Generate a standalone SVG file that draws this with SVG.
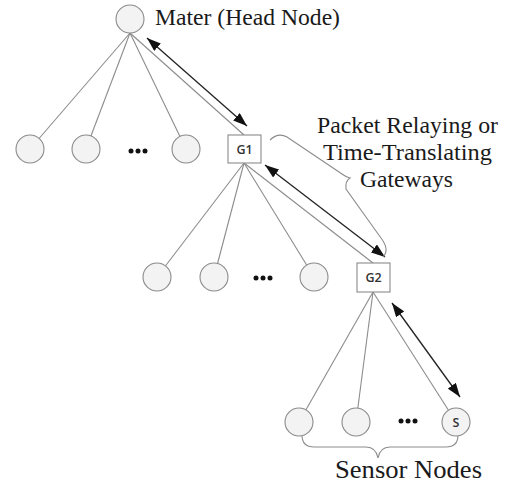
<svg xmlns="http://www.w3.org/2000/svg" width="507" height="484" viewBox="0 0 507 484">
<style>
.edge{stroke:#8c8c8c;stroke-width:1.1;fill:none}
.arr{stroke:#222;stroke-width:1.3;fill:none;marker-start:url(#ah);marker-end:url(#ah)}
.brace{stroke:#8c8c8c;stroke-width:1.1;fill:none}
.nd{fill:#f3f3f3;stroke:#8a8a8a;stroke-width:1.1}
.gw{fill:#fff;stroke:#8a8a8a;stroke-width:1.1}
.lbl{font-family:"Open Sans","Liberation Sans",sans-serif;font-size:12.5px;font-weight:600;fill:#333;text-anchor:middle}
.t{font-family:"Liberation Serif","Times New Roman",serif;font-size:24px;fill:#1a1a1a}
.dot{fill:#111}
</style>
<defs>
<marker id="ah" viewBox="0 0 14 10" refX="14" refY="5" markerWidth="14" markerHeight="10" orient="auto-start-reverse" markerUnits="userSpaceOnUse"><path d="M0,0 L14,5 L0,10 z" fill="#111"/></marker>
</defs>
<g id="connectors">
<line class="edge" x1="130" y1="33" x2="30" y2="149"/>
<line class="edge" x1="130" y1="33" x2="86" y2="149"/>
<line class="edge" x1="130" y1="33" x2="186" y2="149"/>
<line class="edge" x1="130" y1="33" x2="244" y2="135"/>
<line class="edge" x1="244" y1="163" x2="157" y2="277"/>
<line class="edge" x1="244" y1="163" x2="214" y2="277"/>
<line class="edge" x1="244" y1="163" x2="314" y2="277"/>
<line class="edge" x1="244" y1="163" x2="373" y2="263"/>
<line class="edge" x1="373" y1="292" x2="299" y2="422"/>
<line class="edge" x1="373" y1="292" x2="356" y2="422"/>
<line class="edge" x1="373" y1="292" x2="456" y2="422"/>
<line class="arr" x1="147" y1="38" x2="247" y2="126"/>
<line class="arr" x1="265" y1="165" x2="385" y2="257"/>
<line class="arr" x1="392" y1="303" x2="460" y2="397"/>
</g>
<g id="brace-gateways"><path class="brace" d="M270,140 Q278,132 287,137 L342,174 Q346,177 350,178 Q345,181 346,189 L381,238 Q390,250 383,257"/></g>
<g id="brace-sensors"><path class="brace" d="M302,435 Q302,447 314,447 L366,447 Q376,447 378,458 Q380,447 390,447 L446,447 Q458,447 458,435"/></g>
<g id="head"><circle class="nd" cx="130" cy="19" r="14"/></g>
<g id="n1a"><circle class="nd" cx="30" cy="149" r="14"/></g>
<g id="n1b"><circle class="nd" cx="86" cy="149" r="14"/></g>
<g id="dots1"><circle class="dot" cx="131" cy="151" r="2.5"/><circle class="dot" cx="138" cy="151" r="2.5"/><circle class="dot" cx="145" cy="151" r="2.5"/></g>
<g id="n1c"><circle class="nd" cx="186" cy="149" r="14"/></g>
<g id="G1"><rect class="gw" x="228" y="135" width="33" height="28"/><text class="lbl" x="244.5" y="153.5">G1</text></g>
<g id="n2a"><circle class="nd" cx="157" cy="277" r="14"/></g>
<g id="n2b"><circle class="nd" cx="214" cy="277" r="14"/></g>
<g id="dots2"><circle class="dot" cx="256" cy="278" r="2.5"/><circle class="dot" cx="263" cy="278" r="2.5"/><circle class="dot" cx="270" cy="278" r="2.5"/></g>
<g id="n2c"><circle class="nd" cx="314" cy="277" r="14"/></g>
<g id="G2"><rect class="gw" x="357" y="263" width="33" height="29"/><text class="lbl" x="373.5" y="282">G2</text></g>
<g id="n3a"><circle class="nd" cx="299" cy="422" r="14"/></g>
<g id="n3b"><circle class="nd" cx="356" cy="422" r="14"/></g>
<g id="dots3"><circle class="dot" cx="401" cy="421" r="2.5"/><circle class="dot" cx="408" cy="421" r="2.5"/><circle class="dot" cx="415" cy="421" r="2.5"/></g>
<g id="S"><circle class="nd" cx="456" cy="422" r="14"/><text class="lbl" x="456" y="426.5">S</text></g>
<g id="labels">
<text class="t" x="155" y="25" textLength="185" lengthAdjust="spacingAndGlyphs">Mater (Head Node)</text>
<text class="t" x="317" y="133" textLength="181" lengthAdjust="spacingAndGlyphs">Packet Relaying or</text>
<text class="t" x="323" y="160" textLength="169" lengthAdjust="spacingAndGlyphs">Time-Translating</text>
<text class="t" x="360" y="187" textLength="93" lengthAdjust="spacingAndGlyphs">Gateways</text>
<text class="t" x="335" y="478" style="font-size:25px" textLength="147" lengthAdjust="spacingAndGlyphs">Sensor Nodes</text>
</g>
</svg>
